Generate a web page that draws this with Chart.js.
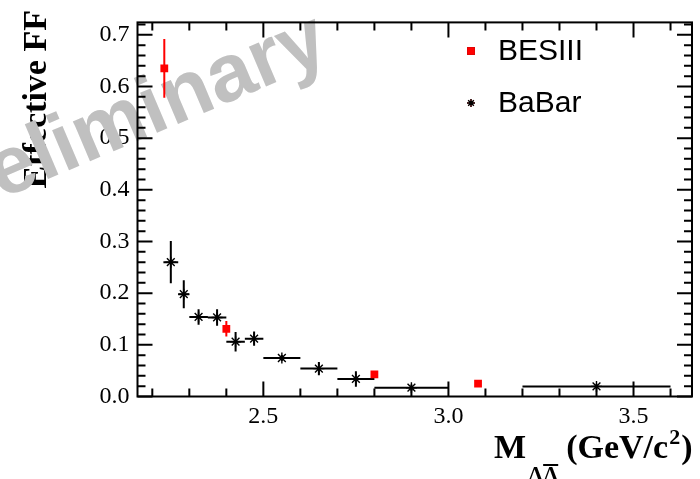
<!DOCTYPE html>
<html>
<head>
<meta charset="utf-8">
<script src="https://cdn.jsdelivr.net/npm/chart.js@4.4.1/dist/chart.umd.min.js"></script>
<style>
  html, body { margin: 0; padding: 0; background: #fff; }
  #wrap { width: 700px; height: 479px; }
</style>
</head>
<body>
<div id="wrap"><canvas id="ffChart" width="700" height="479"></canvas></div>
<script>
"use strict";

// BESIII measurements
const besiiiMass = [2.2324, 2.4, 2.8, 3.08];
const besiiiFF = [0.635, 0.131, 0.043, 0.025];
const besiiiErr = [0.057, 0.015, 0.004, 0.003];

// BaBar measurements (bin centre + bin edges)
const babarMass = [2.25, 2.285, 2.325, 2.375, 2.425, 2.475, 2.55, 2.65, 2.75, 2.9, 3.4];
const babarLow = [2.23, 2.27, 2.30, 2.35, 2.40, 2.45, 2.50, 2.60, 2.70, 2.80, 3.20];
const babarHigh = [2.27, 2.30, 2.35, 2.40, 2.45, 2.50, 2.60, 2.70, 2.80, 3.00, 3.60];
const babarFF = [0.260, 0.198, 0.154, 0.153, 0.106, 0.112, 0.0745, 0.054, 0.034, 0.017, 0.0195];
const babarErr = [0.041, 0.027, 0.015, 0.016, 0.019, 0.014, 0.006, 0.013, 0.015, 0.006, 0.005];

// axes
const xMajorTicks = [2.5, 3.0, 3.5];
const xTickLabels = ["2.5", "3.0", "3.5"];
const yMajorTicks = [0, 0.1, 0.2, 0.3, 0.4, 0.5, 0.6, 0.7];
const yTickLabels = ["0.0", "0.1", "0.2", "0.3", "0.4", "0.5", "0.6", "0.7"];

const serif = "'Liberation Serif', 'Times New Roman', serif";
const sans = "'Liberation Sans', Arial, sans-serif";

function majorLabel(value, majors, labels) {
  const i = majors.findIndex((m) => Math.abs(m - value) < 1e-6);
  return i < 0 ? "" : labels[i];
}

// y title and the "Preliminary" watermark, under the frame and the data
const background = {
  id: "background",
  beforeDatasetsDraw(chart) {
    const { ctx } = chart;
    ctx.save();
    ctx.translate(46, 10);
    ctx.rotate(-Math.PI / 2);
    ctx.fillStyle = "#000";
    ctx.font = "bold 34px " + serif;
    ctx.textAlign = "right";
    ctx.textBaseline = "alphabetic";
    ctx.fillText("Effective FF", 0, 0);
    ctx.restore();

    ctx.save();
    ctx.translate(-79, 233);
    ctx.rotate((-23 * Math.PI) / 180);
    ctx.fillStyle = "#c0c0c0";
    ctx.font = "bold 82px " + sans;
    ctx.textBaseline = "alphabetic";
    ctx.fillText("Preliminary", 0, 0);
    ctx.restore();
  },
};

// ROOT style frame with inward ticks on all four sides
const rootFrame = {
  id: "rootFrame",
  beforeDatasetsDraw(chart) {
    const { ctx, chartArea: a, scales } = chart;
    ctx.save();
    ctx.strokeStyle = "#000";
    ctx.lineWidth = 2;
    ctx.strokeRect(a.left, a.top, a.right - a.left, a.bottom - a.top);
    ctx.beginPath();
    scales.x.ticks.forEach((t) => {
      const px = scales.x.getPixelForValue(t.value);
      const len = t.label ? 15 : 8;
      ctx.moveTo(px, a.bottom);
      ctx.lineTo(px, a.bottom - len);
      ctx.moveTo(px, a.top);
      ctx.lineTo(px, a.top + len);
    });
    scales.y.ticks.forEach((t) => {
      const py = scales.y.getPixelForValue(t.value);
      const len = t.label ? 15 : 8;
      ctx.moveTo(a.left, py);
      ctx.lineTo(a.left + len, py);
      ctx.moveTo(a.right, py);
      ctx.lineTo(a.right - len, py);
    });
    ctx.stroke();
    ctx.restore();
  },
};

// error bars (vertical) and bin widths (horizontal)
const errorBars = {
  id: "errorBars",
  beforeDatasetsDraw(chart) {
    const { ctx, scales } = chart;
    ctx.save();
    chart.data.datasets.forEach((ds) => {
      ctx.strokeStyle = ds.borderColor;
      ctx.lineWidth = 2;
      ctx.beginPath();
      ds.data.forEach((p, i) => {
        const px = scales.x.getPixelForValue(p.x);
        const py = scales.y.getPixelForValue(p.y);
        if (ds.errY) {
          ctx.moveTo(px, scales.y.getPixelForValue(p.y - ds.errY[i]));
          ctx.lineTo(px, scales.y.getPixelForValue(p.y + ds.errY[i]));
        }
        if (ds.xLow) {
          ctx.moveTo(scales.x.getPixelForValue(ds.xLow[i]), py);
          ctx.lineTo(scales.x.getPixelForValue(ds.xHigh[i]), py);
        }
      });
      ctx.stroke();
    });
    ctx.restore();
  },
};

// legend and x title
const overlays = {
  id: "overlays",
  afterDraw(chart) {
    const { ctx } = chart;
    ctx.save();

    ctx.font = "30px " + sans;
    ctx.textBaseline = "middle";
    const legendY = [51, 103];
    chart.data.datasets.forEach((ds, i) => {
      Chart.helpers.drawPoint(ctx, {
        pointStyle: ds.pointStyle,
        radius: ds.legendRadius,
        borderWidth: ds.pointBorderWidth,
      }, 471, legendY[i]);
      ctx.fillStyle = ds.backgroundColor;
      ctx.strokeStyle = ds.borderColor;
      ctx.lineWidth = ds.pointBorderWidth;
      if (ds.pointStyle === "rect") ctx.fill(); else ctx.stroke();
      ctx.fillStyle = "#000";
      ctx.fillText(ds.label, 498, legendY[i] + 1);
    });

    // M_{ΛΛ̄} (GeV/c²)
    const base = 458;
    let x = 494;
    ctx.fillStyle = "#000";
    ctx.textBaseline = "alphabetic";
    ctx.font = "bold 34px " + serif;
    ctx.fillText("M", x, base);
    x += ctx.measureText("M").width + 2;
    ctx.font = "bold 21px " + serif;
    const lam = ctx.measureText("Λ").width;
    ctx.fillText("ΛΛ", x, base + 23);
    ctx.fillRect(x + lam, base + 6, lam, 2);
    x += 2 * lam + 8;
    ctx.font = "bold 34px " + serif;
    ctx.fillText("(GeV/c", x, base);
    x += ctx.measureText("(GeV/c").width;
    ctx.font = "bold 22px " + serif;
    ctx.fillText("2", x + 1, base - 14);
    x += ctx.measureText("2").width + 2;
    ctx.font = "bold 34px " + serif;
    ctx.fillText(")", x, base);

    ctx.restore();
  },
};

const besiiiData = besiiiMass.map((m, i) => ({ x: m, y: besiiiFF[i] }));
const babarData = babarMass.map((m, i) => ({ x: m, y: babarFF[i] }));

new Chart(document.getElementById("ffChart"), {
  type: "scatter",
  data: {
    datasets: [
      {
        label: "BESIII",
        data: besiiiData,
        errY: besiiiErr,
        pointStyle: "rect",
        pointRadius: 5.5,
        legendRadius: 5.5,
        pointBorderWidth: 0,
        backgroundColor: "#ff0000",
        borderColor: "#ff0000",
      },
      {
        label: "BaBar",
        data: babarData,
        errY: babarErr,
        xLow: babarLow,
        xHigh: babarHigh,
        pointStyle: "star",
        pointRadius: 5.5,
        legendRadius: 4,
        pointBorderWidth: 1.4,
        backgroundColor: "#000",
        borderColor: "#000",
      },
    ],
  },
  options: {
    responsive: false,
    animation: false,
    events: [],
    layout: { padding: { top: 10, right: 8, left: 0, bottom: 0 } },
    plugins: { legend: { display: false }, tooltip: { enabled: false } },
    scales: {
      x: {
        type: "linear",
        min: 2.16,
        max: 3.658,
        grid: { display: false, drawTicks: false },
        border: { display: false },
        afterFit(scale) { scale.height = 82.5; },
        ticks: {
          stepSize: 0.1,
          includeBounds: false,
          autoSkip: false,
          maxRotation: 0,
          maxTicksLimit: 1000,
          padding: 6,
          color: "#000",
          font: { family: serif, size: 24 },
          callback: (v) => majorLabel(v, xMajorTicks, xTickLabels),
        },
      },
      y: {
        type: "linear",
        min: 0,
        max: 0.724,
        grid: { display: false, drawTicks: false },
        border: { display: false },
        afterFit(scale) { scale.width = 137.5; },
        ticks: {
          stepSize: 0.02,
          includeBounds: false,
          autoSkip: false,
          maxTicksLimit: 1000,
          padding: 8,
          color: "#000",
          font: { family: serif, size: 24 },
          callback: (v) => majorLabel(v, yMajorTicks, yTickLabels),
        },
      },
    },
  },
  plugins: [background, rootFrame, errorBars, overlays],
});
</script>
</body>
</html>
